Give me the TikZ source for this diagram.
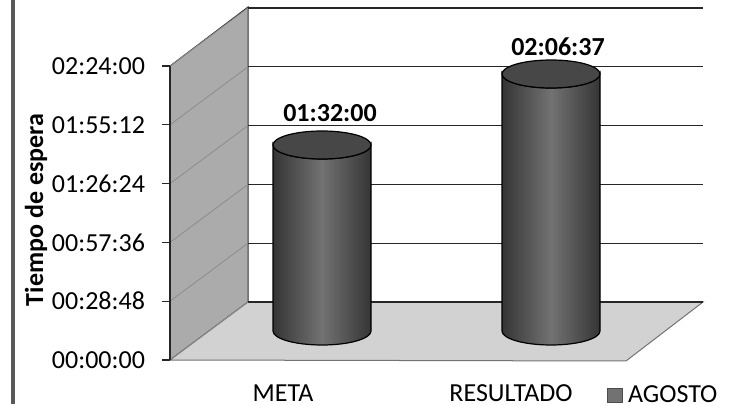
\documentclass[tikz,border=0pt]{standalone}
\usepackage{fontspec}
\setmainfont{Carlito}
\definecolor{wallgray}{HTML}{ABABAB}
\definecolor{floorgray}{HTML}{D2D2D2}
\definecolor{bardark}{HTML}{353535}
\definecolor{barmid}{HTML}{727272}
\definecolor{bartop}{HTML}{474747}
\begin{document}
\begin{tikzpicture}[x=0.5pt,y=-0.5pt,
		lbl/.style={font=\fontsize{13}{15}\selectfont},
		vallbl/.style={font=\fontsize{13}{15}\selectfont\bfseries},
		gridline/.style={draw=black!85,line width=0.6pt}]
		\useasboundingbox (0,0) rectangle (740,406);
		\draw[line width=2pt,black!65] (13,0)--(13,404);
		% walls and floor
		\filldraw[fill=wallgray,draw=black!80,line width=0.5pt] (170,360)--(170,66)--(248,7)--(248,302)--cycle;
		\filldraw[fill=floorgray,draw=black!55,line width=0.5pt] (170,360)--(248,302)--(703,302)--(626,361)--cycle;
		\foreach \i/\T in {0/00:00:00,1/00:28:48,2/00:57:36,3/01:26:24,4/01:55:12,5/02:24:00}{
			\draw[gridline] (248,{302-58.8*\i})--(703,{302-58.8*\i});
			\draw[black!45,line width=0.4pt] (170,{360-58.8*\i})--(248,{302-58.8*\i});
			\draw[gridline] (162,{360-58.8*\i})--(170,{360-58.8*\i});
			\node[lbl,anchor=east] (tick\i) at (152,{360-58.8*\i}) {\T};
		}
		\draw[gridline] (170,360)--(170,66);
		% cylinders
		\foreach \X/\Top/\Name in {322/145/meta,551/74/res}{
			\path[left color=bardark,right color=bardark,middle color=barmid,draw=black,line width=0.6pt]
				({\X-49},331) arc[start angle=180,end angle=360,x radius=24.5pt,y radius=7pt]
				-- ({\X+49},\Top) arc[start angle=360,end angle=180,x radius=24.5pt,y radius=7pt] -- cycle;
			\filldraw[fill=bartop,draw=black,line width=0.6pt] (\X,\Top) ellipse[x radius=24.5pt,y radius=7pt];
			\coordinate (\Name-top) at (\X,\Top);
		}
		\node[vallbl] (val-meta) at (330,113) {01:32:00};
		\node[vallbl] (val-res) at (558,47) {02:06:37};
		\node[vallbl,rotate=90] (ytitle) at (36,210) {Tiempo de espera};
		\node[lbl] (cat-meta) at (283,393) {META};
		\node[lbl] (cat-res) at (511,393) {RESULTADO};
		\filldraw[fill=barmid,draw=black!70,line width=0.4pt] (607,388) rectangle (622,402);
		\node[lbl,anchor=west] (legend) at (621,394) {AGOSTO};
	\end{tikzpicture}
\end{document}
